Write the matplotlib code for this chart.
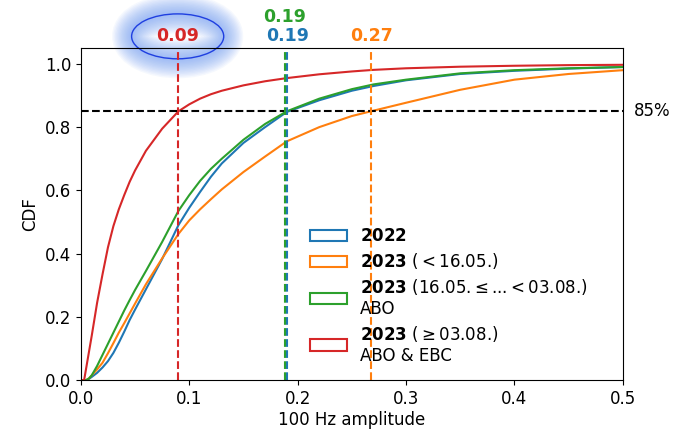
import matplotlib
matplotlib.use('Agg')
import matplotlib.pyplot as plt
from matplotlib.patches import Ellipse, Patch

# amplitude grid
amp = [0.0, 0.003, 0.005, 0.0075, 0.01, 0.015, 0.02, 0.025, 0.03, 0.035, 0.04, 0.045,
       0.05, 0.06, 0.075, 0.09, 0.10, 0.11, 0.12, 0.13, 0.15, 0.17, 0.19, 0.22, 0.25,
       0.27, 0.30, 0.35, 0.40, 0.45, 0.50]

cdf_2022 = [0, 0, 0, 0.004, 0.01, 0.023, 0.04, 0.06, 0.086, 0.118, 0.153, 0.19,
            0.223, 0.287, 0.383, 0.49, 0.545, 0.595, 0.643, 0.685, 0.75, 0.80, 0.848, 0.885, 0.915,
            0.93, 0.948, 0.968, 0.978, 0.985, 0.99]
cdf_2023_a = [0, 0, 0, 0.006, 0.015, 0.034, 0.055, 0.085, 0.117, 0.15, 0.18, 0.211,
              0.242, 0.303, 0.385, 0.462, 0.505, 0.54, 0.572, 0.603, 0.658, 0.707, 0.755, 0.80, 0.835,
              0.852, 0.877, 0.918, 0.95, 0.968, 0.98]
cdf_2023_b = [0, 0, 0, 0.005, 0.015, 0.045, 0.08, 0.115, 0.15, 0.185, 0.22, 0.253,
              0.285, 0.345, 0.437, 0.535, 0.585, 0.63, 0.668, 0.70, 0.76, 0.81, 0.85, 0.89, 0.92,
              0.935, 0.95, 0.97, 0.98, 0.986, 0.99]
cdf_2023_c = [0, 0, 0.04, 0.09, 0.14, 0.245, 0.335, 0.42, 0.487, 0.54, 0.585, 0.627,
              0.663, 0.725, 0.795, 0.85, 0.872, 0.89, 0.904, 0.915, 0.932, 0.945, 0.955, 0.967, 0.976,
              0.981, 0.986, 0.991, 0.994, 0.996, 0.997]

# 85% quantiles
q85 = [0.1905, 0.268, 0.188, 0.0893]
q85_labels = ['0.19', '0.27', '0.19', '0.09']
label_y = [1.089, 1.089, 1.149, 1.089]

labels = [r'$\bf{2022}$',
          r'$\bf{2023}$ ($<$16.05.)',
          r'$\bf{2023}$ (16.05.$\leq$...$<$03.08.)' + '\nABO',
          r'$\bf{2023}$ ($\geq$03.08.)' + '\nABO & EBC']
colors = ['#1f77b4', '#ff7f0e', '#2ca02c', '#d62728']
series = [cdf_2022, cdf_2023_a, cdf_2023_b, cdf_2023_c]

plt.rcParams['font.size'] = 12

fig = plt.figure(figsize=(6.74, 4.29), dpi=100)
ax = fig.add_axes([0.120, 0.114, 0.804, 0.774])

for cdf, c in zip(series, colors):
    ax.plot(amp, cdf, color=c, lw=1.5)

ax.axhline(0.85, color='k', ls='--', lw=1.5)
ax.text(0.51, 0.85, '85%', va='center', ha='left', fontsize=12)

for q, lab, ly, c in zip(q85, q85_labels, label_y, colors):
    ax.axvline(q, color=c, ls='--', lw=1.5)
    ax.text(q, ly, lab, color=c, fontweight='bold', ha='center', va='center',
            fontsize=12.5, clip_on=False)

# highlight ellipse with a soft glow
ex, ey, ew, eh = 0.0893, 1.087, 0.085, 0.142
for lw in range(28, 0, -2):
    ax.add_patch(Ellipse((ex, ey), ew, eh, fill=False, edgecolor='#6f9cf5',
                         lw=lw, alpha=0.065, clip_on=False))
ax.add_patch(Ellipse((ex, ey), ew, eh, fill=False, edgecolor='#1f3fe0',
                     lw=1.0, clip_on=False))

ax.set_xlim(0, 0.5)
ax.set_ylim(0, 1.05)
ax.set_xticks([0.0, 0.1, 0.2, 0.3, 0.4, 0.5])
ax.set_xticklabels(['0.0', '0.1', '0.2', '0.3', '0.4', '0.5'])
ax.set_yticks([0.0, 0.2, 0.4, 0.6, 0.8, 1.0])
ax.set_xlabel('100 Hz amplitude', labelpad=2)
ax.set_ylabel('CDF')

handles = [Patch(facecolor='white', edgecolor=c, lw=1.5) for c in colors]
ax.legend(handles, labels, loc='upper left', bbox_to_anchor=(0.395, 0.505),
          frameon=False, fontsize=12, handlelength=2.2, handletextpad=0.8,
          labelspacing=0.35)

fig.savefig('out.png', dpi=100)
